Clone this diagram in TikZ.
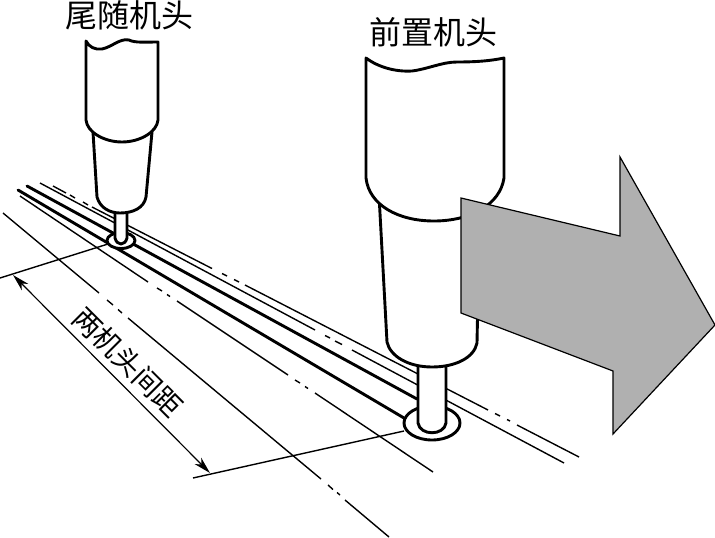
\documentclass[tikz,border=0pt]{standalone}
\usepackage{fontspec}
\newfontfamily\cjk{Noto Sans CJK SC}
\usetikzlibrary{arrows.meta}
\tikzset{
  thickline/.style={line width=2.9pt,line cap=round,line join=round},
  thinline/.style={line width=1.4pt,line cap=butt},
  toollabel/.style={font=\cjk\fontsize{32}{32}\selectfont,inner sep=0pt,text=black},
  dimlabel/.style={font=\cjk\fontsize{28}{28}\selectfont,inner sep=0pt,text=black,rotate=-45},
  part/.style={thickline,fill=white}
}
\begin{document}
\begin{tikzpicture}[x=1pt,y=-1pt]
\useasboundingbox (0,0) rectangle (715,538);
% coordinates for free ends
\coordinate (rearEll) at (121,240.5);
\coordinate (frontEll) at (432,423);
\coordinate (extA) at (0,278);
\coordinate (extAend) at (108,244);
\coordinate (extB) at (193,478);
\coordinate (extBend) at (404,431);
\coordinate (dimA) at (13,275);
\coordinate (dimB) at (210,473);
% workpiece lines
\draw[thinline] (53,186) -- (66,193) (70,195) -- (75,198) (83,202) -- (88,205) (92,207) -- (212,268.5)
  (222,273.5) -- (227,276) (234,279.5) -- (239,282) (245,285) -- (488,410) (495,413.5) -- (500,416) (507,419.5) -- (510,421) (517,425) -- (579,457);
\draw[thinline] (40,183) -- (315,330) (325,335.5) -- (330,338) (335,341) -- (342,344.5) (352,350) -- (564,463);
\draw[thinline] (20,196) -- (148,282) (157,288) -- (162,291) (167,294.5) -- (170,296.5) (177,301) -- (288,375)
  (295,380) -- (300,383) (305,386.5) -- (308,388.5) (315,393) -- (433,472);
\draw[thinline] (3,213) -- (99,293) (107,300) -- (113,305) (118,309.5) -- (122,313) (128,318) -- (321,479)
  (328,485) -- (333,489.5) (337,492.5) -- (340,495) (345,500) -- (389,537);
% dimension
\draw[thinline] (extA) -- (extAend);
\draw[thinline] (extB) -- (extBend);
\draw[line width=1.2pt,{Stealth[length=17pt,width=9pt,inset=5pt]}-{Stealth[length=17pt,width=9pt,inset=5pt]}] (dimA) -- (dimB);
% weld seam
\draw[thickline] (18,190) -- (404,418);
\draw[thickline] (27,186) -- (417,399);
% pools
\draw[part] (rearEll) ellipse [x radius=14,y radius=8];
\draw[part] (frontEll) ellipse [x radius=28,y radius=17];
% rear head
\draw[part] (115,208) -- (115,238) .. controls (117,246) and (125,246) .. (127,238) -- (127,208) -- cycle;
\draw[part] (93,132) -- (97,197) .. controls (100,208) and (110,213) .. (120,213) .. controls (133,213) and (144,208) .. (146,197) -- (152,132) -- cycle;
\draw[part] (86,41) .. controls (89,47) and (95,50) .. (102,49) .. controls (112,47) and (120,38) .. (129,40) .. controls (135,43) and (145,42) .. (158,42)
  -- (158,120) .. controls (157,132) and (140,142) .. (122,142) .. controls (104,142) and (87,132) .. (86,120) -- cycle;
% front head
\draw[part] (418,355) -- (418,423) .. controls (420,436) and (444,436) .. (446,423) -- (446,355) -- cycle;
\draw[part] (379,195) -- (387,342) .. controls (390,356) and (408,367) .. (432,367) .. controls (455,367) and (474,358) .. (477,343) -- (480,195) -- cycle;
\draw[part] (366,58) .. controls (378,67) and (395,72) .. (412,71) .. controls (428,69) and (442,62) .. (457,62) .. controls (475,62) and (490,61) .. (504,58)
  -- (504,178) .. controls (500,205) and (470,221) .. (434,221) .. controls (398,221) and (369,205) .. (366,178) -- cycle;
% direction arrow
\draw[line width=1.2pt,fill={rgb,255:red,176;green,176;blue,176},line join=miter] (461,198) -- (620,236) -- (620,157) -- (715,325) -- (613,434) -- (613,371) -- (461,313) -- cycle;
% labels
\node[toollabel] (rearLabel) at (129,15) {尾随机头};
\node[toollabel] (frontLabel) at (433.5,32) {前置机头};
\node[dimlabel] (gapLabel) at (128,362) {两机头间距};
\end{tikzpicture}
\end{document}
